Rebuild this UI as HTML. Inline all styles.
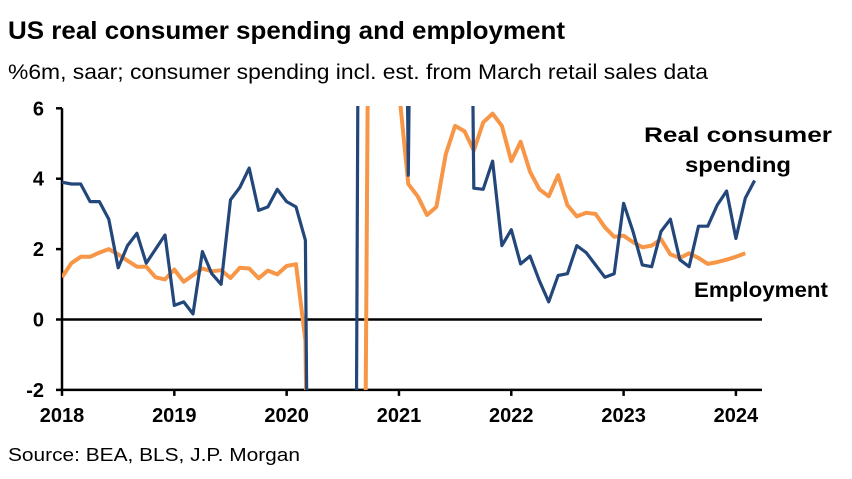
<!DOCTYPE html>
<html><head><meta charset="utf-8"><style>
html,body{margin:0;padding:0;background:#fff;width:852px;height:479px;overflow:hidden;font-family:"Liberation Sans",Arial,sans-serif}
svg{display:block;position:absolute;left:0;top:0}
</style></head><body>
<svg width="852" height="479" viewBox="0 0 852 479" overflow="hidden">
<text x="8" y="39" font-size="25" font-weight="bold" fill="#000" textLength="557" lengthAdjust="spacingAndGlyphs">US real consumer spending and employment</text>
<text x="8" y="79" font-size="21" fill="#000" textLength="700" lengthAdjust="spacingAndGlyphs">%6m, saar; consumer spending incl. est. from March retail sales data</text>
<text x="8" y="461" font-size="18" fill="#000" textLength="292" lengthAdjust="spacingAndGlyphs">Source: BEA, BLS, J.P. Morgan</text>
<defs><clipPath id="pc"><rect x="62" y="106" width="700" height="284"/></clipPath></defs>
<g id="axes"></g>
<g id="series" clip-path="url(#pc)"></g>
<text x="738" y="142" font-size="21" font-weight="bold" text-anchor="middle" textLength="188" lengthAdjust="spacingAndGlyphs">Real consumer</text>
<text x="738" y="172" font-size="21" font-weight="bold" text-anchor="middle" textLength="106" lengthAdjust="spacingAndGlyphs">spending</text>
<text x="761" y="297" font-size="21" font-weight="bold" text-anchor="middle" textLength="134" lengthAdjust="spacingAndGlyphs">Employment</text>
</svg>
<script>
const yTicks=[-2,0,2,4,6];
const xYears=[2018,2019,2020,2021,2022,2023,2024];
const spending=[3.9,3.85,3.85,3.35,3.35,2.85,1.47,2.1,2.45,1.6,2.0,2.4,0.4,0.5,0.16,1.93,1.3,1.0,3.4,3.75,4.3,3.1,3.2,3.7,3.35,3.2,2.25,
-30,-30,-30,-30,-30,30,30,30,30,30,4.1,30,30,30,30,30,30,
3.73,3.7,4.5,2.1,2.55,1.58,1.8,1.1,0.5,1.25,1.3,2.1,1.9,1.55,1.2,1.3,3.3,2.5,1.55,1.5,2.5,2.85,1.7,1.5,2.65,2.65,3.25,3.65,2.3,3.45,3.95];
const employment=[1.2,1.6,1.78,1.78,1.9,2.0,1.85,1.67,1.5,1.5,1.2,1.14,1.42,1.07,1.26,1.45,1.37,1.4,1.18,1.47,1.45,1.17,1.39,1.28,1.52,1.57,-0.6,
-20,-20,-20,-20,-20,-20,20,20,20,6.5,3.85,
3.5,2.97,3.2,4.7,5.5,5.35,4.8,5.6,5.85,5.5,4.5,5.05,4.2,3.7,3.5,4.1,3.25,2.93,3.03,3.0,2.62,2.35,2.38,2.2,2.05,2.1,2.28,1.85,1.75,1.88,1.75,1.58,1.63,1.7,1.78,1.88];
const X0=62,MW=9.36,Y0=319.5,YU=35.2;
const xs=i=>X0+i*MW, ys=v=>Y0-v*YU;
const NS="http://www.w3.org/2000/svg";
const ax=document.getElementById('axes'), se=document.getElementById('series');
function mk(tag,attrs,parent){const e=document.createElementNS(NS,tag);for(const k in attrs)e.setAttribute(k,attrs[k]);parent.appendChild(e);return e;}
let l=mk('line',{x1:62,y1:ys(6),x2:62,y2:ys(-2),stroke:'#000','stroke-width':2.5},ax);


l=mk('line',{x1:62,y1:ys(-2),x2:762,y2:ys(-2),stroke:'#000','stroke-width':2.5},ax);


l=mk('line',{x1:62,y1:ys(0),x2:762,y2:ys(0),stroke:'#000','stroke-width':2.5},ax);


yTicks.forEach(v=>{
 const t=mk('line',{x1:56,x2:62,y1:ys(v),y2:ys(v),stroke:'#000','stroke-width':2.5},ax);
 
 
 const tx=mk('text',{x:44,y:ys(v)+7,'font-size':20,'font-weight':'bold','text-anchor':'end'},ax);
 tx.textContent=v;
 
 
});
xYears.forEach((yr,k)=>{
 const x=xs(k*12);
 const t=mk('line',{x1:x,x2:x,y1:ys(-2),y2:ys(-2)+6,stroke:'#000','stroke-width':2.5},ax);
 
 
 const tx=mk('text',{x:x,y:422,'font-size':20,'font-weight':'bold','text-anchor':'middle'},ax);
 tx.textContent=yr;
 
 
});
function pts(a){return a.map((v,i)=>xs(i).toFixed(1)+','+ys(v).toFixed(1)).join(' ');}
let p=mk('polyline',{points:pts(employment),fill:'none',stroke:'#f79646','stroke-width':4,'stroke-linejoin':'round'},se);


p=mk('polyline',{points:pts(spending),fill:'none',stroke:'#23477a','stroke-width':3.2,'stroke-linejoin':'round'},se);


</script>
</body></html>
